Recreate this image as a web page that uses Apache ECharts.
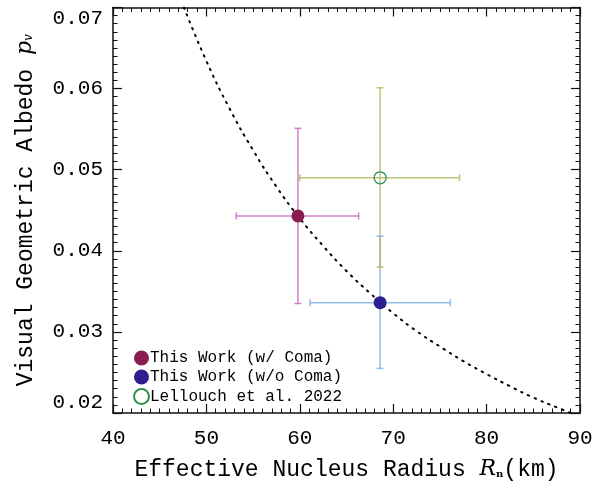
<!DOCTYPE html>
<html><head><meta charset="utf-8">
<script src="https://cdn.jsdelivr.net/npm/echarts@6/dist/echarts.min.js"></script>
<style>html,body{margin:0;padding:0;background:#fff}#c{width:608px;height:486px}</style>
</head><body><div id="c"></div>
<script>
// ---- data ----
const seriesNames = ['This Work (w/ Coma)', 'This Work (w/o Coma)', 'Lellouch et al. 2022'];
const radius   = [59.8, 68.6, 68.6];
const radiusLo = [53.2, 61.1, 60.0];
const radiusHi = [66.3, 76.1, 77.1];
const albedo   = [0.0443, 0.0336, 0.0490];
const albedoLo = [0.0335, 0.0255, 0.0380];
const albedoHi = [0.0551, 0.0418, 0.0601];
// dotted curve, points
const curveR  = [47.6, 50, 52.5, 55, 57.5, 60, 62.5, 65, 67.5, 70, 72.5, 75, 77.5, 80, 82.5, 85, 87.5, 89.0];
const curvePv = [0.0700, 0.0634, 0.0575, 0.0524, 0.0479, 0.0440, 0.0406, 0.0375, 0.0348, 0.0323, 0.0301, 0.0282, 0.0264, 0.0248, 0.0233, 0.0219, 0.0207, 0.0200];
const xTicks = [40, 50, 60, 70, 80, 90];
const yTicks = [0.02, 0.03, 0.04, 0.05, 0.06, 0.07];

const markerColors = ['#8a1d52', '#2e1f8e', '#2f8f4e'];
const barColors = ['rgba(200,110,190,0.85)', 'rgba(120,170,225,0.8)', 'rgba(180,180,90,0.8)'];
const FONT = 'Liberation Mono';

const chart = echarts.init(document.getElementById('c'), null, {renderer: 'canvas'});

function errSeries(i) {
  return {
    type: 'custom', name: 'err' + i, z: 3, silent: true,
    data: [[radius[i], albedo[i], radiusLo[i], radiusHi[i], albedoLo[i], albedoHi[i]]],
    renderItem: function (params, api) {
      const x = api.value(0), y = api.value(1);
      const pl = api.coord([api.value(2), y]), ph = api.coord([api.value(3), y]);
      const pb = api.coord([x, api.value(4)]), pt = api.coord([x, api.value(5)]);
      const cap = 3.5;
      const st = {stroke: barColors[i], lineWidth: 1.5};
      const L = (x1, y1, x2, y2) => ({type: 'line', shape: {x1, y1, x2, y2}, style: st});
      return {type: 'group', children: [
        L(pl[0], pl[1], ph[0], ph[1]),
        L(pb[0], pb[1], pt[0], pt[1]),
        L(pl[0], pl[1] - cap, pl[0], pl[1] + cap),
        L(ph[0], ph[1] - cap, ph[0], ph[1] + cap),
        L(pb[0] - cap, pb[1], pb[0] + cap, pb[1]),
        L(pt[0] - cap, pt[1], pt[0] + cap, pt[1])
      ]};
    }
  };
}

const axisCommon = {
  axisLine: {show: true, lineStyle: {color: '#111', width: 1.5}},
  axisTick: {show: true, inside: true, length: 9, lineStyle: {color: '#111', width: 1.2}},
  minorTick: {show: true, splitNumber: 10, length: 4.5, lineStyle: {color: '#111', width: 1}},
  splitLine: {show: false}
};

const option = {
  animation: false,
  backgroundColor: '#fff',
  grid: {left: 113, right: 28, top: 7.5, bottom: 70},
  legend: {
    orient: 'vertical', left: 128, top: 345, itemGap: 3,
    itemWidth: 15, itemHeight: 15, icon: 'circle',
    data: seriesNames,
    textStyle: {fontFamily: FONT, fontSize: 16, color: '#000', padding: [0, 0, 0, -4]}
  },
  xAxis: [
    Object.assign({
      type: 'value', min: 40, max: 90, interval: 10,
      name: '{a|Effective Nucleus Radius }{i|R}{s|n}{a|(km)}',
      nameLocation: 'middle', nameGap: 45,
      nameTextStyle: {rich: {
        a: {fontFamily: FONT, fontSize: 23, color: '#000'},
        i: {fontFamily: 'DejaVu Serif', fontSize: 22, fontStyle: 'italic', color: '#000'},
        s: {fontFamily: 'DejaVu Serif', fontSize: 10, fontWeight: 'bold', color: '#000', padding: [10, 0, 0, 0]}
      }},
      axisLabel: {fontFamily: FONT, fontSize: 21, color: '#000', margin: 15,
        formatter: v => xTicks.includes(Math.round(v)) ? String(Math.round(v)) : ''}
    }, axisCommon),
    Object.assign({
      type: 'value', min: 40, max: 90, interval: 10, position: 'top',
      axisLabel: {show: false}
    }, axisCommon)
  ],
  yAxis: [
    Object.assign({
      type: 'value', min: 0.02, max: 0.07, interval: 0.01,
      name: '{a|Visual Geometric Albedo }{i|p}{s|v}',
      nameLocation: 'middle', nameGap: 76, nameRotate: 90,
      nameTextStyle: {rich: {
        a: {fontFamily: FONT, fontSize: 23, color: '#000'},
        i: {fontFamily: 'DejaVu Serif', fontSize: 22, fontStyle: 'italic', color: '#000'},
        s: {fontFamily: 'DejaVu Serif', fontSize: 12, fontStyle: 'italic', color: '#000', padding: [6, 0, 0, 0]}
      }},
      axisLabel: {fontFamily: FONT, fontSize: 21, color: '#000', margin: 10,
        verticalAlignMaxLabel: 'top', verticalAlignMinLabel: 'bottom',
        formatter: v => v.toFixed(2)}
    }, axisCommon),
    Object.assign({
      type: 'value', min: 0.02, max: 0.07, interval: 0.01, position: 'right',
      axisLabel: {show: false}
    }, axisCommon)
  ],
  series: [
    {
      type: 'line', name: 'curve', z: 2, smooth: true, symbol: 'none', silent: true,
      data: curveR.map((r, k) => [r, curvePv[k]]),
      lineStyle: {color: '#000', width: 2, type: [1.4, 6], cap: 'round'}
    },
    errSeries(0), errSeries(1), errSeries(2),
    {
      type: 'scatter', name: seriesNames[0], z: 5, symbolSize: 13,
      data: [[radius[0], albedo[0]]],
      itemStyle: {color: markerColors[0], opacity: 1}
    },
    {
      type: 'scatter', name: seriesNames[1], z: 5, symbolSize: 13,
      data: [[radius[1], albedo[1]]],
      itemStyle: {color: markerColors[1], opacity: 1}
    },
    {
      type: 'scatter', name: seriesNames[2], z: 5, symbolSize: 12,
      data: [[radius[2], albedo[2]]],
      itemStyle: {color: 'rgba(255,255,255,0)', borderColor: markerColors[2], borderWidth: 1.3, opacity: 1}
    }
  ]
};
chart.setOption(option);
</script>
</body></html>
